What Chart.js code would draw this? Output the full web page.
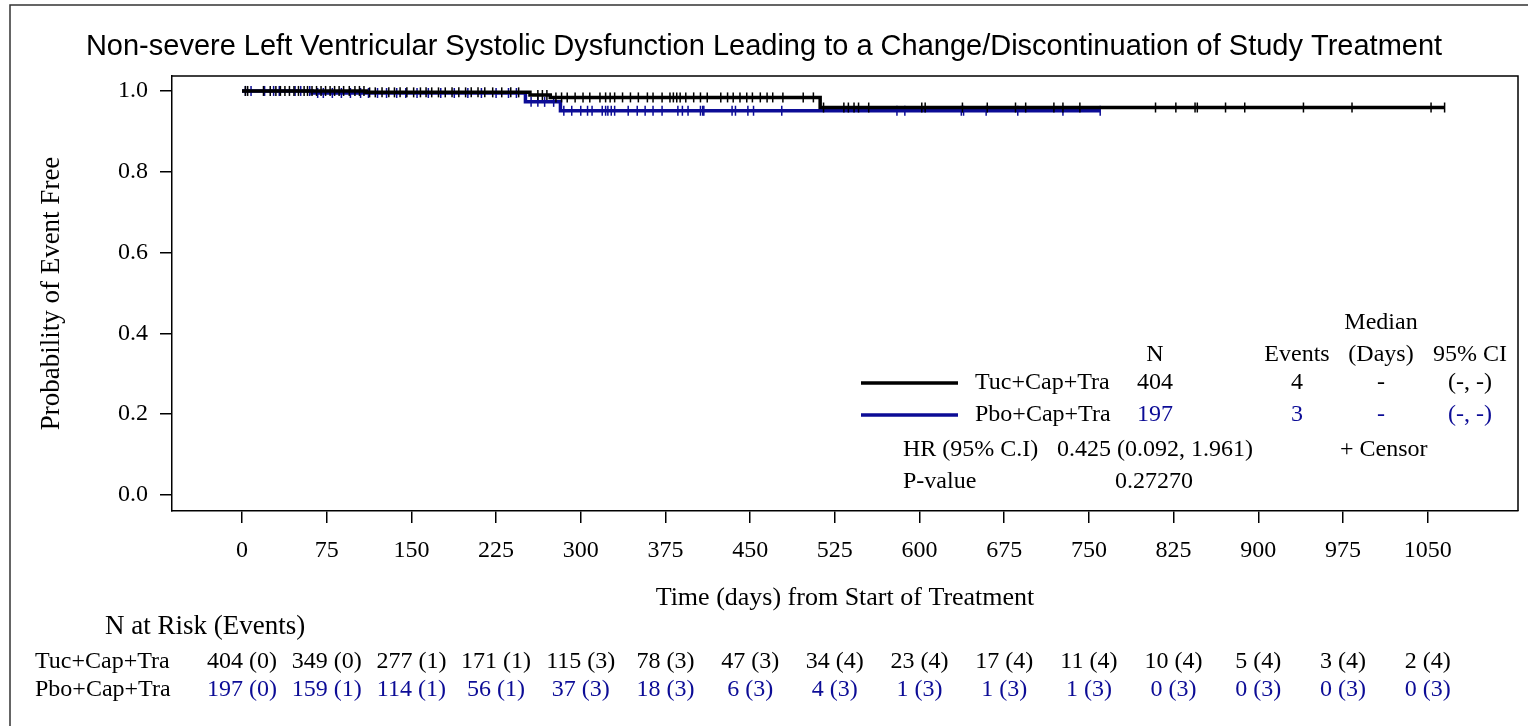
<!DOCTYPE html>
<html>
<head>
<meta charset="utf-8">
<title>Non-severe LVSD KM plot</title>
<script src="https://cdn.jsdelivr.net/npm/chart.js@4.4.1/dist/chart.umd.min.js"></script>
<style>
  html, body { margin: 0; padding: 0; background: #fff; }
  #wrap { position: relative; width: 1528px; height: 726px; }
</style>
</head>
<body>
<div id="wrap"><canvas id="km" width="1528" height="726"></canvas></div>
<script>
// Kaplan-Meier: time to non-severe LVSD leading to change/discontinuation

const xTicks = [0, 75, 150, 225, 300, 375, 450, 525, 600, 675, 750, 825, 900, 975, 1050];
const yTicks = [0, 0.2, 0.4, 0.6, 0.8, 1.0];

const armNames = ['Tuc+Cap+Tra', 'Pbo+Cap+Tra'];
const armColors = ['#000000', '#0c0c96'];

// step points (day, survival)
const tucDays = [0, 110, 255, 273, 512, 1065];
const tucSurv = [1, 0.9965, 0.990, 0.984, 0.959, 0.959];
const pboDays = [0, 62, 251, 282, 760];
const pboSurv = [1, 0.995, 0.973, 0.951, 0.951];

// censor marks (days)
const tucCensor = [3, 5, 19, 25, 30, 34, 38, 42, 46, 50, 55, 58, 62, 66, 70, 74, 78, 82, 86, 90,
  95, 100, 104, 108, 113, 118, 124, 130, 135, 140, 146, 152, 158, 163, 168, 174, 180, 186, 192,
  198, 203, 209, 215, 222, 230, 238, 245, 262, 266, 270, 278, 283, 288, 295, 302, 308, 317, 322,
  326, 330, 337, 344, 351, 359, 364, 372, 379, 382, 385, 388, 393, 400, 406, 412, 424, 430, 435,
  441, 447, 452, 459, 465, 470, 479, 497, 506, 515, 533, 537, 542, 546, 555, 602, 605, 638, 660,
  685, 694, 719, 727, 742, 809, 827, 844, 846, 871, 888, 940, 983, 1053, 1065];
const pboCensor = [3, 8, 20, 28, 33, 47, 52, 60, 67, 72, 80, 88, 96, 105, 112, 120, 128, 137, 145,
  155, 165, 176, 188, 200, 212, 225, 236, 243, 256, 262, 268, 276, 285, 292, 300, 306, 310, 319,
  322, 324, 327, 330, 342, 350, 357, 364, 372, 386, 390, 395, 406, 408, 409, 434, 437, 448, 453,
  478, 580, 587, 637, 639, 659, 687, 727, 760];

// number at risk (cumulative events) at each x tick
const tucAtRisk = [404, 349, 277, 171, 115, 78, 47, 34, 23, 17, 11, 10, 5, 3, 2];
const tucEvents = [0, 0, 1, 1, 3, 3, 3, 4, 4, 4, 4, 4, 4, 4, 4];
const pboAtRisk = [197, 159, 114, 56, 37, 18, 6, 4, 1, 1, 1, 0, 0, 0, 0];
const pboEvents = [0, 1, 1, 1, 3, 3, 3, 3, 3, 3, 3, 3, 3, 3, 3];

// summary stats
const armN = [404, 197];
const armTotalEvents = [4, 3];
const armMedian = ['-', '-'];
const armCI = ['(-, -)', '(-, -)'];
const hrText = '0.425 (0.092, 1.961)';
const pValueText = '0.27270';

const SERIF = '"Liberation Serif", "Times New Roman", serif';
const SANS = '"Liberation Sans", Arial, sans-serif';

function survAt(days, surv, t) {
  let s = surv[0];
  for (let i = 0; i < days.length; i++) {
    if (days[i] <= t) s = surv[i];
  }
  return s;
}

function stepData(days, surv) {
  return days.map((d, i) => ({ x: d, y: surv[i] }));
}

function censorData(cens, days, surv) {
  return cens.map(t => ({ x: t, y: survAt(days, surv, t) }));
}

// frame, legend block and risk table
const kmDecor = {
  id: 'kmDecor',
  afterDraw(chart) {
    const ctx = chart.ctx;
    const a = chart.chartArea;
    const xs = chart.scales.x;
    ctx.save();

    // outer page frame
    ctx.strokeStyle = '#333';
    ctx.lineWidth = 1.5;
    ctx.beginPath();
    ctx.moveTo(10, 726);
    ctx.lineTo(10, 5);
    ctx.lineTo(1528, 5);
    ctx.stroke();

    // close plot box (top + right)
    ctx.strokeStyle = '#000';
    ctx.lineWidth = 1.5;
    ctx.beginPath();
    ctx.moveTo(a.left, a.top);
    ctx.lineTo(a.right, a.top);
    ctx.lineTo(a.right, a.bottom);
    ctx.stroke();

    // legend / stats block
    ctx.font = '24px ' + SERIF;
    ctx.textBaseline = 'middle';
    ctx.fillStyle = '#000';
    ctx.textAlign = 'center';
    ctx.fillText('Median', 1381, 323);
    ctx.fillText('N', 1155, 355);
    ctx.fillText('Events', 1297, 355);
    ctx.fillText('(Days)', 1381, 355);
    ctx.fillText('95% CI', 1470, 355);

    const rowY = [383, 415];
    for (let i = 0; i < 2; i++) {
      ctx.strokeStyle = armColors[i];
      ctx.lineWidth = 3.5;
      ctx.beginPath();
      ctx.moveTo(861, rowY[i]);
      ctx.lineTo(958, rowY[i]);
      ctx.stroke();
      ctx.fillStyle = '#000';
      ctx.textAlign = 'left';
      ctx.fillText(armNames[i], 975, rowY[i]);
      ctx.fillStyle = armColors[i];
      ctx.textAlign = 'center';
      ctx.fillText(String(armN[i]), 1155, rowY[i]);
      ctx.fillText(String(armTotalEvents[i]), 1297, rowY[i]);
      ctx.fillText(armMedian[i], 1381, rowY[i]);
      ctx.fillText(armCI[i], 1470, rowY[i]);
    }
    ctx.fillStyle = '#000';
    ctx.textAlign = 'left';
    ctx.fillText('HR (95% C.I)', 903, 450);
    ctx.fillText(hrText, 1057, 450);
    ctx.fillText('+ Censor', 1340, 450);
    ctx.fillText('P-value', 903, 482);
    ctx.fillText(pValueText, 1115, 482);

    // number at risk table
    ctx.font = '27px ' + SERIF;
    ctx.fillText('N at Risk (Events)', 105, 627);
    ctx.font = '24px ' + SERIF;
    ctx.fillText(armNames[0], 35, 662);
    ctx.fillText(armNames[1], 35, 690);
    ctx.textAlign = 'center';
    xTicks.forEach((t, i) => {
      const px = xs.getPixelForValue(t);
      ctx.fillStyle = armColors[0];
      ctx.fillText(tucAtRisk[i] + ' (' + tucEvents[i] + ')', px, 662);
      ctx.fillStyle = armColors[1];
      ctx.fillText(pboAtRisk[i] + ' (' + pboEvents[i] + ')', px, 690);
    });
    ctx.restore();
  }
};

const censorStyle = {
  type: 'scatter',
  showLine: false,
  pointStyle: 'line',
  rotation: 90,
  pointRadius: 5,
  borderWidth: 1.5
};

new Chart(document.getElementById('km'), {
  type: 'line',
  data: {
    datasets: [
      {
        label: armNames[0],
        data: stepData(tucDays, tucSurv),
        borderColor: armColors[0],
        borderWidth: 3.5,
        stepped: true,
        pointRadius: 0,
        fill: false
      },
      Object.assign({ label: 'tuc censor', data: censorData(tucCensor, tucDays, tucSurv),
        borderColor: armColors[0], backgroundColor: armColors[0] }, censorStyle),
      {
        label: armNames[1],
        data: stepData(pboDays, pboSurv),
        borderColor: armColors[1],
        borderWidth: 3.5,
        stepped: true,
        pointRadius: 0,
        fill: false
      },
      Object.assign({ label: 'pbo censor', data: censorData(pboCensor, pboDays, pboSurv),
        borderColor: armColors[1], backgroundColor: armColors[1] }, censorStyle)
    ]
  },
  options: {
    responsive: false,
    animation: false,
    events: [],
    layout: { padding: { left: 10, right: 10, top: 0, bottom: 112 } },
    plugins: {
      legend: { display: false },
      tooltip: { enabled: false },
      title: {
        display: true,
        text: 'Non-severe Left Ventricular Systolic Dysfunction Leading to a Change/Discontinuation of Study Treatment',
        color: '#000',
        font: { family: SANS, size: 29, weight: 'normal', lineHeight: 1.2 },
        padding: { top: 30, bottom: 11.2 }
      }
    },
    scales: {
      x: {
        type: 'linear',
        min: -62,
        max: 1130,
        afterBuildTicks: s => { s.ticks = xTicks.map(v => ({ value: v })); },
        afterFit: s => { s.height = 103; },
        grid: { display: true, drawOnChartArea: false, drawTicks: true, tickLength: 12, color: '#000', lineWidth: 1.5 },
        border: { display: true, color: '#000', width: 1.5 },
        ticks: { color: '#000', padding: 13, font: { family: SERIF, size: 24 }, callback: v => String(v) },
        title: {
          display: true,
          text: 'Time (days) from Start of Treatment',
          color: '#000',
          font: { family: SERIF, size: 26, lineHeight: 1.2 },
          padding: { top: 0, bottom: 0 }
        }
      },
      y: {
        type: 'linear',
        min: -0.0396,
        max: 1.037,
        afterBuildTicks: s => { s.ticks = yTicks.map(v => ({ value: v })); },
        afterFit: s => { s.width = 162; },
        grid: { display: true, drawOnChartArea: false, drawTicks: true, tickLength: 12, color: '#000', lineWidth: 1.5 },
        border: { display: true, color: '#000', width: 1.5 },
        ticks: { color: '#000', padding: 12, font: { family: SERIF, size: 24 }, callback: v => v.toFixed(1) },
        title: {
          display: true,
          text: 'Probability of Event Free',
          color: '#000',
          font: { family: SERIF, size: 27, lineHeight: 1.2 },
          padding: { top: 25.8, bottom: 0 }
        }
      }
    }
  },
  plugins: [kmDecor]
});
</script>
</body>
</html>
